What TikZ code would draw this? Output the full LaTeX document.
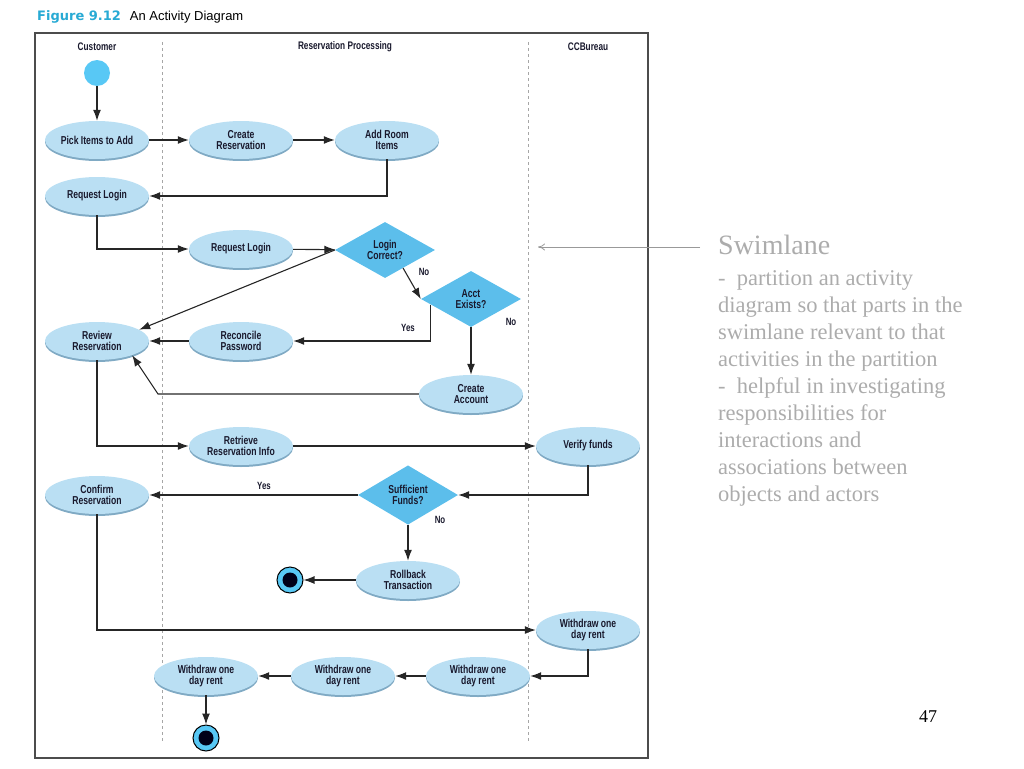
\documentclass[tikz,border=0pt]{standalone}
\usepackage{fontspec}
\setmainfont{Liberation Serif}
\newfontfamily\lanefont[FakeStretch=0.75]{Liberation Sans}
\newfontfamily\capfont{Liberation Sans}
\newfontfamily\figfont{DejaVu Sans}
\usetikzlibrary{shapes.geometric,arrows.meta,shadows}
\definecolor{actfill}{RGB}{186,223,243}
\definecolor{actshade}{RGB}{128,170,196}
\definecolor{decfill}{RGB}{92,190,235}
\definecolor{startfill}{RGB}{88,200,245}
\definecolor{figcyan}{RGB}{40,170,212}
\definecolor{notegray}{RGB}{172,172,172}
\definecolor{inkdark}{RGB}{25,25,45}

\begin{document}
\begin{tikzpicture}[x=1pt,y=-1pt,
	act/.style={ellipse, fill=actfill, minimum width=104pt, minimum height=38pt, inner sep=0pt, align=center,
		text=inkdark, font=\lanefont\bfseries\fontsize{11.5}{11.5}\selectfont,
		drop shadow={shadow xshift=0pt, shadow yshift=-2pt, fill=actshade, opacity=1}},
	dec/.style={diamond, fill=decfill, minimum width=100pt, minimum height=56pt, inner sep=0pt, align=center,
		text=inkdark, font=\lanefont\bfseries\fontsize{11.5}{11.5}\selectfont},
	lbl/.style={text=inkdark, font=\lanefont\bfseries\fontsize{10.5}{11}\selectfont},
	lane/.style={text=inkdark, font=\lanefont\bfseries\fontsize{11}{12}\selectfont},
	startpt/.style={circle, fill=startfill, minimum size=26pt, inner sep=0pt},
	endpt/.style={circle, fill=startfill, draw=black, line width=1pt, minimum size=26pt, inner sep=0pt,
		path picture={\fill[black!90!blue] (path picture bounding box.center) circle (7.5pt);}},
	flow/.style={-{Latex[length=11pt,width=8pt]}, line width=1.1pt, black!85}]
	\useasboundingbox (0,0) rectangle (1024,768);
	\node[anchor=west, font=\capfont\fontsize{13}{15}\selectfont, inner sep=0pt] (caption) at (37,17)
		{{\color{figcyan}\figfont\bfseries Figure 9.12}\hspace{9pt}An Activity Diagram};
	\draw[line width=1.2pt, black!70] (35,33) rectangle (648,758);
	\draw[dashed, black!35] (162,42) -- (162,742);
	\draw[dashed, black!35] (528,42) -- (528,742);
	\node[lane] (customer) at (97,47) {Customer};
	\node[lane] (resproc) at (345,47) {Reservation Processing};
	\node[lane] (ccbureau) at (588,47) {CCBureau};

	\node[startpt] (start) at (97,73) {};
	\node[act] (pick) at (97,140) {Pick Items to Add};
	\node[act] (create) at (241,140) {Create\\Reservation};
	\node[act] (addroom) at (387,140) {Add Room\\Items};
	\node[act] (reqcust) at (97,196) {Request Login};
	\node[act] (reqrp) at (241,249) {Request Login};
	\node[dec] (logok) at (385,250) {Login\\Correct?};
	\node[dec] (acct) at (471,299) {Acct\\Exists?};
	\node[act] (review) at (97,341) {Review\\Reservation};
	\node[act] (recon) at (241,341) {Reconcile\\Password};
	\node[act] (newacct) at (471,394) {Create\\Account};
	\node[act] (retrieve) at (241,446) {Retrieve\\Reservation Info};
	\node[act] (verify) at (588,446) {Verify funds};
	\node[act] (confirm) at (97,495) {Confirm\\Reservation};
	\node[dec] (suff) at (408,495) {Sufficient\\Funds?};
	\node[act] (rollback) at (408,580) {Rollback\\Transaction};
	\node[endpt] (stop1) at (290,580) {};
	\node[act] (wd1) at (588,630) {Withdraw one\\day rent};
	\node[act] (wd2) at (478,676) {Withdraw one\\day rent};
	\node[act] (wd3) at (343,676) {Withdraw one\\day rent};
	\node[act] (wd4) at (206,676) {Withdraw one\\day rent};
	\node[endpt] (stop2) at (206,738) {};
	\coordinate (bend) at (158,394);

	\draw[flow] (start) -- (pick);
	\draw[flow] (pick) -- (create);
	\draw[flow] (create) -- (addroom);
	\draw[flow] (addroom.south) |- (reqcust.east);
	\draw[flow] (reqcust.south) |- (reqrp.west);
	\draw[flow] (reqrp) -- (logok);
	\draw[flow] (logok.west) -- (review.15);
	\draw[flow] (logok.-45) -- (acct.west);
	\draw[flow] (acct.188) |- (recon.east);
	\draw[flow] (recon) -- (review);
	\draw[flow] (acct) -- (newacct);
	\draw[flow] (newacct.west) -- (bend) -- (review.-22);
	\draw[flow] (review.south) |- (retrieve.west);
	\draw[flow] (retrieve) -- (verify);
	\draw[flow] (verify.south) |- (suff.east);
	\draw[flow] (suff) -- (confirm);
	\draw[flow] (suff) -- (rollback);
	\draw[flow] (rollback) -- (stop1);
	\draw[flow] (confirm.south) |- (wd1.west);
	\draw[flow] (wd1.south) |- (wd2.east);
	\draw[flow] (wd2) -- (wd3);
	\draw[flow] (wd3) -- (wd4);
	\draw[flow] (wd4) -- (stop2);

	\node[lbl] (no1) at (424,272) {No};
	\node[lbl] (no2) at (511,322) {No};
	\node[lbl] (yes1) at (408,328) {Yes};
	\node[lbl] (yes2) at (264,486) {Yes};
	\node[lbl] (no3) at (440,520) {No};

	\coordinate (notefrom) at (700,247);
	\coordinate (noteto) at (538,247);
	\draw[-{To[length=7pt,width=7pt]}, black!40, line width=0.8pt] (notefrom) -- (noteto);
	\node[anchor=west, text=notegray, font=\fontsize{28}{30}\selectfont, inner sep=0pt] (swimlane) at (718,245) {Swimlane};
	\node[anchor=north west, text=notegray, align=left, inner sep=0pt, font=\fontsize{22.5}{27}\selectfont] (notetext) at (718,270)
		{-\ \ partition an activity\\diagram so that parts in the\\swimlane relevant to that\\activities in the partition\\-\ \ helpful in investigating\\responsibilities for\\interactions and\\associations between\\objects and actors};
	\node[font=\fontsize{18}{20}\selectfont] (pagenum) at (928,717) {47};
\end{tikzpicture}
\end{document}
